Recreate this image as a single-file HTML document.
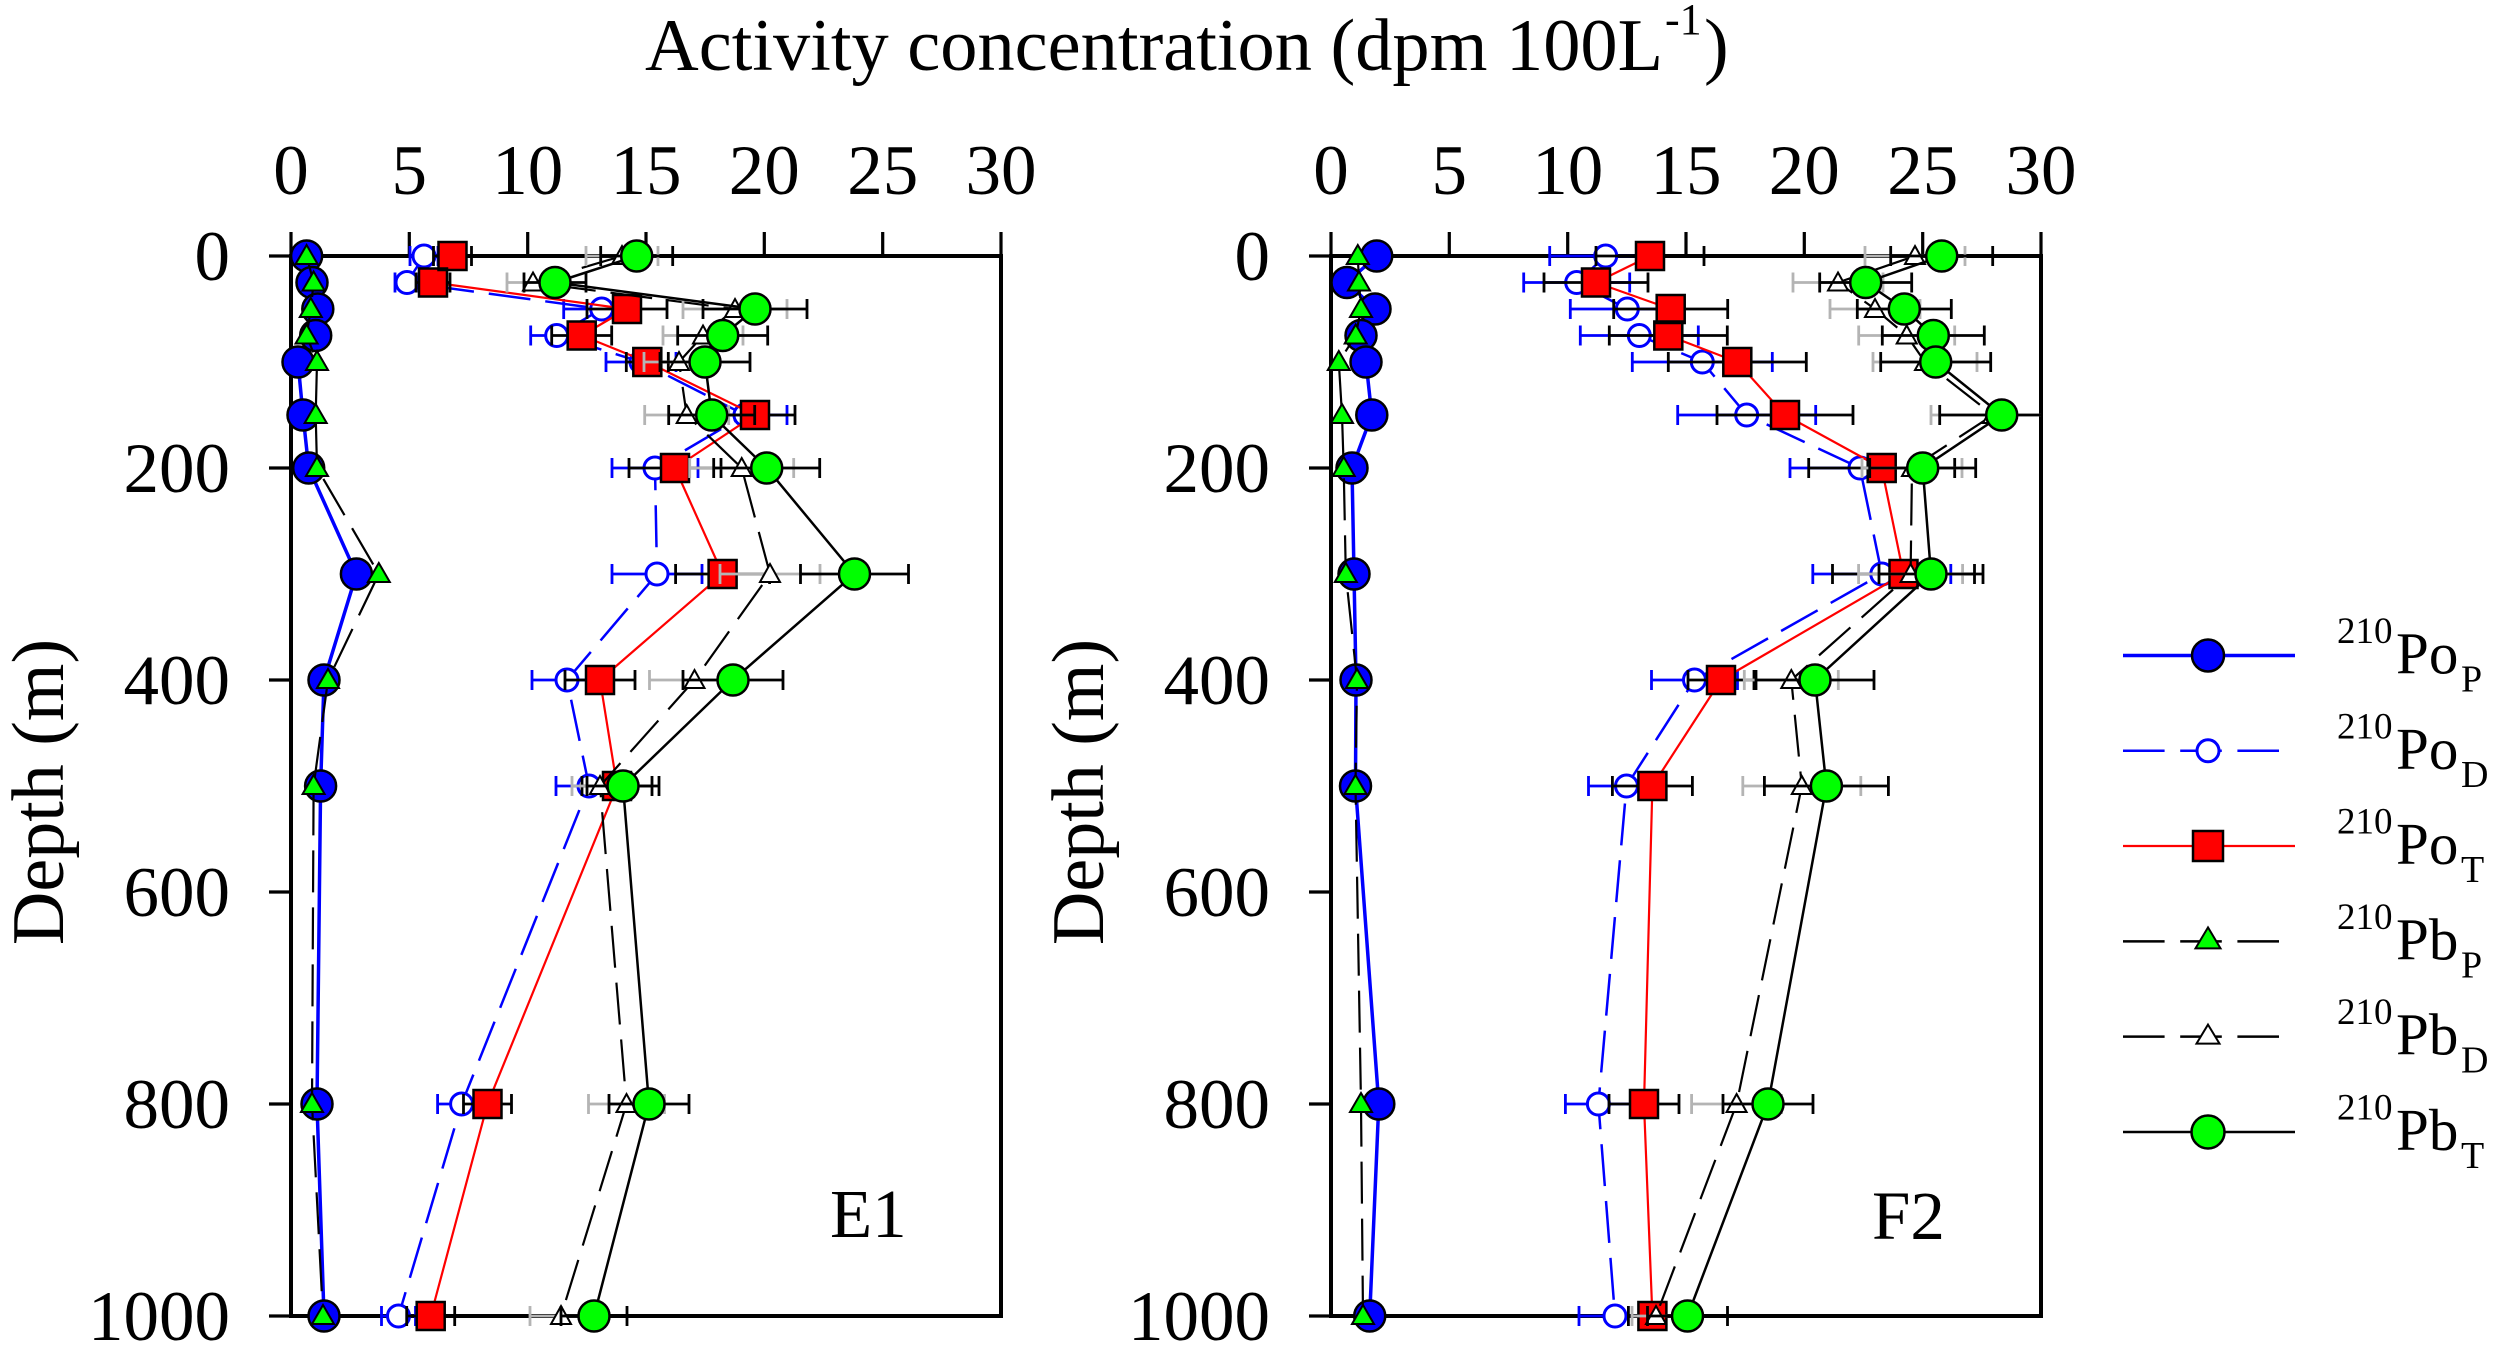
<!DOCTYPE html>
<html><head><meta charset="utf-8"><style>
html,body{margin:0;padding:0;background:#fff;}
svg{display:block;}
text{font-family:"Liberation Serif","Times New Roman",serif;fill:#000;}
</style></head><body>
<svg width="2500" height="1346" viewBox="0 0 2500 1346" xmlns="http://www.w3.org/2000/svg">
<rect width="2500" height="1346" fill="#fff"/>

<!-- Title -->
<text x="645" y="70" font-size="74" textLength="1018" lengthAdjust="spacingAndGlyphs">Activity concentration (dpm 100L</text>
<text x="1665" y="34" font-size="44">-1</text>
<text x="1704" y="70" font-size="74">)</text>

<!-- ===== Panel E1 frame ===== -->
<g stroke="#000" fill="none">
<rect x="291" y="256" width="710" height="1060" stroke-width="4"/>
<path stroke-width="3.2" d="M291,232V256M409.3,232V256M527.7,232V256M646,232V256M764.3,232V256M882.7,232V256M1001,232V256
M269,256H291M269,468H291M269,680H291M269,892H291M269,1104H291M269,1316H291"/>
</g>
<g font-size="71" text-anchor="middle">
<text x="291" y="194">0</text><text x="409.3" y="194">5</text><text x="527.7" y="194">10</text><text x="646" y="194">15</text><text x="764.3" y="194">20</text><text x="882.7" y="194">25</text><text x="1001" y="194">30</text>
</g>
<g font-size="71" text-anchor="end">
<text x="230" y="280">0</text><text x="230" y="492">200</text><text x="230" y="704">400</text><text x="230" y="916">600</text><text x="230" y="1128">800</text><text x="230" y="1340">1000</text>
</g>
<text transform="translate(63,792) rotate(-90)" font-size="74" text-anchor="middle">Depth (m)</text>
<text x="830" y="1237" font-size="69">E1</text>

<!-- ===== Panel F2 frame ===== -->
<g stroke="#000" fill="none">
<rect x="1331" y="256" width="710" height="1060" stroke-width="4"/>
<path stroke-width="3.2" d="M1331,232V256M1449.3,232V256M1567.7,232V256M1686,232V256M1804.3,232V256M1922.7,232V256M2041,232V256
M1309,256H1331M1309,468H1331M1309,680H1331M1309,892H1331M1309,1104H1331M1309,1316H1331"/>
</g>
<g font-size="71" text-anchor="middle">
<text x="1331" y="194">0</text><text x="1449.3" y="194">5</text><text x="1567.7" y="194">10</text><text x="1686" y="194">15</text><text x="1804.3" y="194">20</text><text x="1922.7" y="194">25</text><text x="2041" y="194">30</text>
</g>
<g font-size="71" text-anchor="end">
<text x="1270" y="280">0</text><text x="1270" y="492">200</text><text x="1270" y="704">400</text><text x="1270" y="916">600</text><text x="1270" y="1128">800</text><text x="1270" y="1340">1000</text>
</g>
<text transform="translate(1103,792) rotate(-90)" font-size="74" text-anchor="middle">Depth (m)</text>
<text x="1872" y="1239" font-size="69">F2</text>

<!-- ================= E1 DATA ================= -->
<!-- PoP -->
<polyline fill="none" stroke="#0000ff" stroke-width="3.5" points="306.6,256 312,282.5 317.8,309 315.7,335.5 298,362 303,415 308.7,468 356.4,574 324,680 320.6,786 317,1104 324,1316"/>
<g fill="#0000ff" stroke="#000" stroke-width="2.5">
<circle cx="306.6" cy="256" r="15.5"/><circle cx="312" cy="282.5" r="15.5"/><circle cx="317.8" cy="309" r="15.5"/><circle cx="315.7" cy="335.5" r="15.5"/><circle cx="298" cy="362" r="15.5"/><circle cx="303" cy="415" r="15.5"/><circle cx="308.7" cy="468" r="15.5"/><circle cx="356.4" cy="574" r="15.5"/><circle cx="324" cy="680" r="15.5"/><circle cx="320.6" cy="786" r="15.5"/><circle cx="317" cy="1104" r="15.5"/><circle cx="324" cy="1316" r="15.5"/>
</g>
<!-- PoD -->
<polyline fill="none" stroke="#0000ff" stroke-width="2.5" stroke-dasharray="42 15" points="424,256 407,282.5 601.7,309 556.7,335.5 641,362 745,415 655,468 657,574 567,680 589,786 461.6,1104 398.5,1316"/>
<path fill="none" stroke="#0000ff" stroke-width="2.8" d="M410,256H438M410,246v20M438,246v20
M395,282.5H419M395,272.5v20M419,272.5v20
M563.7,309H639.7M563.7,299v20M639.7,299v20
M530.7,335.5H582.7M530.7,325.5v20M582.7,325.5v20
M606,362H676M606,352v20M676,352v20
M703,415H787M703,405v20M787,405v20
M612,468H698M612,458v20M698,458v20
M612,574H702M612,564v20M702,564v20
M532,680H602M532,670v20M602,670v20
M556,786H622M556,776v20M622,776v20
M437.6,1104H485.6M437.6,1094v20M485.6,1094v20
M381.5,1316H415.5M381.5,1306v20M415.5,1306v20"/>
<g fill="#fff" stroke="#0000ff" stroke-width="3">
<circle cx="424" cy="256" r="11"/><circle cx="407" cy="282.5" r="11"/><circle cx="601.7" cy="309" r="11"/><circle cx="556.7" cy="335.5" r="11"/><circle cx="641" cy="362" r="11"/><circle cx="745" cy="415" r="11"/><circle cx="655" cy="468" r="11"/><circle cx="657" cy="574" r="11"/><circle cx="567" cy="680" r="11"/><circle cx="589" cy="786" r="11"/><circle cx="461.6" cy="1104" r="11"/><circle cx="398.5" cy="1316" r="11"/>
</g>
<!-- PoT -->
<polyline fill="none" stroke="#ff0000" stroke-width="2.2" points="452.5,256 433,282.5 627,309 581.7,335.5 647.3,362 755,415 675,468 722.6,574 600,680 617,786 487.5,1104 430.7,1316"/>
<path fill="none" stroke="#000" stroke-width="2.8" d="M433.5,256H471.5M433.5,246v20M471.5,246v20
M416,282.5H450M416,272.5v20M450,272.5v20
M587,309H667M587,299v20M667,299v20
M551.7,335.5H611.7M551.7,325.5v20M611.7,325.5v20
M626.3,362H668.3M626.3,352v20M668.3,352v20
M715,415H795M715,405v20M795,405v20
M629,468H721M629,458v20M721,458v20
M675.6,574H769.6M675.6,564v20M769.6,564v20
M565,680H635M565,670v20M635,670v20
M582,786H652M582,776v20M652,776v20
M463.5,1104H511.5M463.5,1094v20M511.5,1094v20
M406.7,1316H454.7M406.7,1306v20M454.7,1306v20"/>
<path fill="#ff0000" stroke="#000" stroke-width="2.5" d="M438.5,242h28v28h-28zM419,268.5h28v28h-28zM613,295h28v28h-28zM567.7,321.5h28v28h-28zM633.3,348h28v28h-28zM741,401h28v28h-28zM661,454h28v28h-28zM708.6,560h28v28h-28zM586,666h28v28h-28zM603,772h28v28h-28zM473.5,1090h28v28h-28zM416.7,1302h28v28h-28z"/>
<!-- PbP -->
<polyline fill="none" stroke="#000" stroke-width="2.2" stroke-dasharray="42 15" points="306.6,256 313.6,282.5 310.8,309 306.6,335.5 317,362 315.7,415 317,468 378.8,574 328,680 313.6,786 312,1104 323,1316"/>
<path fill="#00ff00" stroke="#000" stroke-width="2" d="M306.6,245l11,19h-22zM313.6,271.5l11,19h-22zM310.8,298l11,19h-22zM306.6,324.5l11,19h-22zM317,351l11,19h-22zM315.7,404l11,19h-22zM317,457l11,19h-22zM378.8,563l11,19h-22zM328,669l11,19h-22zM313.6,775l11,19h-22zM312,1093l11,19h-22zM323,1305l11,19h-22z"/>
<!-- PbD -->
<polyline fill="none" stroke="#000" stroke-width="2.2" stroke-dasharray="42 15" points="622,256 533,282.5 735,309 703,335.5 679,362 686.7,415 741.7,468 770,574 694.5,680 600,786 626.5,1104 561,1316"/>
<path fill="none" stroke="#b4b4b4" stroke-width="2.8" d="M586,256H658M586,246v20M658,246v20
M507,282.5H559M507,272.5v20M559,272.5v20
M683,309H787M683,299v20M787,299v20
M663,335.5H743M663,325.5v20M743,325.5v20
M644,362H714M644,352v20M714,352v20
M644.7,415H728.7M644.7,405v20M728.7,405v20
M689.7,468H793.7M689.7,458v20M793.7,458v20
M720,574H820M720,564v20M820,564v20
M649.5,680H739.5M649.5,670v20M739.5,670v20
M572,786H628M572,776v20M628,776v20
M588.5,1104H664.5M588.5,1094v20M664.5,1094v20
M530,1316H592M530,1306v20M592,1306v20"/>
<path fill="#fff" stroke="#000" stroke-width="2" d="M622,246l10,18h-20zM533,272.5l10,18h-20zM735,299l10,18h-20zM703,325.5l10,18h-20zM679,352l10,18h-20zM686.7,405l10,18h-20zM741.7,458l10,18h-20zM770,564l10,18h-20zM694.5,670l10,18h-20zM600,776l10,18h-20zM626.5,1094l10,18h-20zM561,1306l10,18h-20z"/>
<!-- PbT -->
<polyline fill="none" stroke="#000" stroke-width="2.5" points="636.7,256 555,282.5 755,309 722.7,335.5 705,362 711.7,415 766.7,468 854.5,574 733,680 623,786 649,1104 594,1316"/>
<path fill="none" stroke="#000" stroke-width="2.8" d="M600.7,256H672.7M600.7,246v20M672.7,246v20
M524,282.5H586M524,272.5v20M586,272.5v20
M703,309H807M703,299v20M807,299v20
M677.7,335.5H767.7M677.7,325.5v20M767.7,325.5v20
M660,362H750M660,352v20M750,352v20
M668.7,415H754.7M668.7,405v20M754.7,405v20
M713.7,468H819.7M713.7,458v20M819.7,458v20
M800.5,574H908.5M800.5,564v20M908.5,564v20
M683,680H783M683,670v20M783,670v20
M587,786H659M587,776v20M659,776v20
M609,1104H689M609,1094v20M689,1094v20
M561,1316H627M561,1306v20M627,1306v20"/>
<g fill="#00ff00" stroke="#000" stroke-width="2.5">
<circle cx="636.7" cy="256" r="15.5"/><circle cx="555" cy="282.5" r="15.5"/><circle cx="755" cy="309" r="15.5"/><circle cx="722.7" cy="335.5" r="15.5"/><circle cx="705" cy="362" r="15.5"/><circle cx="711.7" cy="415" r="15.5"/><circle cx="766.7" cy="468" r="15.5"/><circle cx="854.5" cy="574" r="15.5"/><circle cx="733" cy="680" r="15.5"/><circle cx="623" cy="786" r="15.5"/><circle cx="649" cy="1104" r="15.5"/><circle cx="594" cy="1316" r="15.5"/>
</g>

<!-- ================= F2 DATA ================= -->
<!-- PoP -->
<polyline fill="none" stroke="#0000ff" stroke-width="3.5" points="1376.7,256 1347,282.5 1375,309 1361,335.5 1366,362 1371.8,415 1352,468 1354,574 1356,680 1355.5,786 1378.8,1104 1369.7,1316"/>
<g fill="#0000ff" stroke="#000" stroke-width="2.5">
<circle cx="1376.7" cy="256" r="15.5"/><circle cx="1347" cy="282.5" r="15.5"/><circle cx="1375" cy="309" r="15.5"/><circle cx="1361" cy="335.5" r="15.5"/><circle cx="1366" cy="362" r="15.5"/><circle cx="1371.8" cy="415" r="15.5"/><circle cx="1352" cy="468" r="15.5"/><circle cx="1354" cy="574" r="15.5"/><circle cx="1356" cy="680" r="15.5"/><circle cx="1355.5" cy="786" r="15.5"/><circle cx="1378.8" cy="1104" r="15.5"/><circle cx="1369.7" cy="1316" r="15.5"/>
</g>
<!-- PoD -->
<polyline fill="none" stroke="#0000ff" stroke-width="2.5" stroke-dasharray="42 15" points="1605.7,256 1576.7,282.5 1627.3,309 1639.3,335.5 1702.3,362 1746.7,415 1860,468 1881.8,574 1694.5,680 1626.5,786 1598.4,1104 1615,1316"/>
<path fill="none" stroke="#0000ff" stroke-width="2.8" d="M1549.7,256H1661.7M1549.7,246v20M1661.7,246v20
M1523.7,282.5H1629.7M1523.7,272.5v20M1629.7,272.5v20
M1570.3,309H1684.3M1570.3,299v20M1684.3,299v20
M1580.3,335.5H1698.3M1580.3,325.5v20M1698.3,325.5v20
M1632.3,362H1772.3M1632.3,352v20M1772.3,352v20
M1677.7,415H1815.7M1677.7,405v20M1815.7,405v20
M1790,468H1930M1790,458v20M1930,458v20
M1812.8,574H1950.8M1812.8,564v20M1950.8,564v20
M1651.5,680H1737.5M1651.5,670v20M1737.5,670v20
M1588.5,786H1664.5M1588.5,776v20M1664.5,776v20
M1565.4,1104H1631.4M1565.4,1094v20M1631.4,1094v20
M1579,1316H1651M1579,1306v20M1651,1306v20"/>
<g fill="#fff" stroke="#0000ff" stroke-width="3">
<circle cx="1605.7" cy="256" r="11"/><circle cx="1576.7" cy="282.5" r="11"/><circle cx="1627.3" cy="309" r="11"/><circle cx="1639.3" cy="335.5" r="11"/><circle cx="1702.3" cy="362" r="11"/><circle cx="1746.7" cy="415" r="11"/><circle cx="1860" cy="468" r="11"/><circle cx="1881.8" cy="574" r="11"/><circle cx="1694.5" cy="680" r="11"/><circle cx="1626.5" cy="786" r="11"/><circle cx="1598.4" cy="1104" r="11"/><circle cx="1615" cy="1316" r="11"/>
</g>
<!-- PoT -->
<polyline fill="none" stroke="#ff0000" stroke-width="2.2" points="1650,256 1596,282.5 1670.7,309 1668.3,335.5 1737.3,362 1785,415 1881.7,468 1903.5,574 1721,680 1652.4,786 1644,1104 1652.4,1316"/>
<path fill="none" stroke="#000" stroke-width="2.8" d="M1596,256H1704M1596,246v20M1704,246v20
M1544,282.5H1648M1544,272.5v20M1648,272.5v20
M1613.7,309H1727.7M1613.7,299v20M1727.7,299v20
M1609.3,335.5H1727.3M1609.3,325.5v20M1727.3,325.5v20
M1668.3,362H1806.3M1668.3,352v20M1806.3,352v20
M1717,415H1853M1717,405v20M1853,405v20
M1808.7,468H1954.7M1808.7,458v20M1954.7,458v20
M1832.5,574H1974.5M1832.5,564v20M1974.5,564v20
M1688,680H1754M1688,670v20M1754,670v20
M1612.4,786H1692.4M1612.4,776v20M1692.4,776v20
M1609,1104H1679M1609,1094v20M1679,1094v20
M1628.4,1316H1676.4M1628.4,1306v20M1676.4,1306v20"/>
<path fill="#ff0000" stroke="#000" stroke-width="2.5" d="M1636,242h28v28h-28zM1582,268.5h28v28h-28zM1656.7,295h28v28h-28zM1654.3,321.5h28v28h-28zM1723.3,348h28v28h-28zM1771,401h28v28h-28zM1867.7,454h28v28h-28zM1889.5,560h28v28h-28zM1707,666h28v28h-28zM1638.4,772h28v28h-28zM1630,1090h28v28h-28zM1638.4,1302h28v28h-28z"/>
<!-- PbP -->
<polyline fill="none" stroke="#000" stroke-width="2.2" stroke-dasharray="42 15" points="1357.8,256 1359,282.5 1361,309 1355.7,335.5 1338.8,362 1342,415 1343.7,468 1345.8,574 1357,680 1355.5,786 1361,1104 1363,1316"/>
<path fill="#00ff00" stroke="#000" stroke-width="2" d="M1357.8,245l11,19h-22zM1359,271.5l11,19h-22zM1361,298l11,19h-22zM1355.7,324.5l11,19h-22zM1338.8,351l11,19h-22zM1342,404l11,19h-22zM1343.7,457l11,19h-22zM1345.8,563l11,19h-22zM1357,669l11,19h-22zM1355.5,775l11,19h-22zM1361,1093l11,19h-22zM1363,1305l11,19h-22z"/>
<!-- PbD -->
<polyline fill="none" stroke="#000" stroke-width="2.2" stroke-dasharray="42 15" points="1915,256 1838,282.5 1875,309 1906.7,335.5 1925,362 1993,415 1912,468 1910.6,574 1791.3,680 1801.8,786 1736.6,1104 1656,1316"/>
<path fill="none" stroke="#b4b4b4" stroke-width="2.8" d="M1865,256H1965M1865,246v20M1965,246v20
M1793,282.5H1883M1793,272.5v20M1883,272.5v20
M1830,309H1920M1830,299v20M1920,299v20
M1858.7,335.5H1954.7M1858.7,325.5v20M1954.7,325.5v20
M1873,362H1977M1873,352v20M1977,352v20
M1931,415H2041M1931,405v20
M1862,468H1962M1862,458v20M1962,458v20
M1858.6,574H1962.6M1858.6,564v20M1962.6,564v20
M1744.3,680H1838.3M1744.3,670v20M1838.3,670v20
M1742.8,786H1860.8M1742.8,776v20M1860.8,776v20
M1691.6,1104H1781.6M1691.6,1094v20M1781.6,1094v20
M1632,1316H1680M1632,1306v20M1680,1306v20"/>
<path fill="#fff" stroke="#000" stroke-width="2" d="M1915,246l10,18h-20zM1838,272.5l10,18h-20zM1875,299l10,18h-20zM1906.7,325.5l10,18h-20zM1925,352l10,18h-20zM1993,405l10,18h-20zM1912,458l10,18h-20zM1910.6,564l10,18h-20zM1791.3,670l10,18h-20zM1801.8,776l10,18h-20zM1736.6,1094l10,18h-20zM1656,1306l10,18h-20z"/>
<!-- PbT -->
<polyline fill="none" stroke="#000" stroke-width="2.5" points="1941.7,256 1865.7,282.5 1904.3,309 1933.3,335.5 1935.7,362 2001.7,415 1922.7,468 1931,574 1815,680 1826.4,786 1768,1104 1687.5,1316"/>
<path fill="none" stroke="#000" stroke-width="2.8" d="M1890.7,256H1992.7M1890.7,246v20M1992.7,246v20
M1819.7,282.5H1911.7M1819.7,272.5v20M1911.7,272.5v20
M1857.3,309H1951.3M1857.3,299v20M1951.3,299v20
M1882.3,335.5H1984.3M1882.3,325.5v20M1984.3,325.5v20
M1880.7,362H1990.7M1880.7,352v20M1990.7,352v20
M1939.7,415H2041M1939.7,405v20
M1869.7,468H1975.7M1869.7,458v20M1975.7,458v20
M1879,574H1983M1879,564v20M1983,564v20
M1756,680H1874M1756,670v20M1874,670v20
M1764.4,786H1888.4M1764.4,776v20M1888.4,776v20
M1723,1104H1813M1723,1094v20M1813,1094v20
M1647.5,1316H1727.5M1647.5,1306v20M1727.5,1306v20"/>
<g fill="#00ff00" stroke="#000" stroke-width="2.5">
<circle cx="1941.7" cy="256" r="15.5"/><circle cx="1865.7" cy="282.5" r="15.5"/><circle cx="1904.3" cy="309" r="15.5"/><circle cx="1933.3" cy="335.5" r="15.5"/><circle cx="1935.7" cy="362" r="15.5"/><circle cx="2001.7" cy="415" r="15.5"/><circle cx="1922.7" cy="468" r="15.5"/><circle cx="1931" cy="574" r="15.5"/><circle cx="1815" cy="680" r="15.5"/><circle cx="1826.4" cy="786" r="15.5"/><circle cx="1768" cy="1104" r="15.5"/><circle cx="1687.5" cy="1316" r="15.5"/>
</g>

<!-- ================= LEGEND ================= -->
<path d="M2123,655.5H2295" stroke="#0000ff" stroke-width="3.5" fill="none"/>
<circle cx="2208" cy="655.5" r="16" fill="#0000ff" stroke="#000" stroke-width="2.5"/>

<path d="M2123,750.8H2279" stroke="#0000ff" stroke-width="2.5" stroke-dasharray="41.6 15.6" fill="none"/>
<circle cx="2208" cy="750.8" r="11" fill="#fff" stroke="#0000ff" stroke-width="3"/>

<path d="M2123,846H2295" stroke="#ff0000" stroke-width="2.2" fill="none"/>
<rect x="2193" y="831" width="30" height="30" fill="#ff0000" stroke="#000" stroke-width="2.5"/>

<path d="M2123,941.4H2279" stroke="#000" stroke-width="2.5" stroke-dasharray="41.6 15.6" fill="none"/>
<path d="M2208,927.4l12.5,21h-25z" fill="#00ff00" stroke="#000" stroke-width="2"/>

<path d="M2123,1036.6H2279" stroke="#000" stroke-width="2.5" stroke-dasharray="41.6 15.6" fill="none"/>
<path d="M2208,1024.6l11.5,19h-23z" fill="#fff" stroke="#000" stroke-width="2"/>

<path d="M2123,1132H2295" stroke="#000" stroke-width="2.5" fill="none"/>
<circle cx="2208" cy="1132" r="16.5" fill="#00ff00" stroke="#000" stroke-width="2.5"/>

<g>
<text x="2337" y="643" font-size="37">210</text><text x="2396" y="673.5" font-size="59">Po</text><text x="2461" y="691.5" font-size="38">P</text>
<text x="2337" y="738.3" font-size="37">210</text><text x="2396" y="768.8" font-size="59">Po</text><text x="2461" y="786.8" font-size="38">D</text>
<text x="2337" y="833.5" font-size="37">210</text><text x="2396" y="864" font-size="59">Po</text><text x="2461" y="882" font-size="38">T</text>
<text x="2337" y="928.9" font-size="37">210</text><text x="2396" y="959.4" font-size="59">Pb</text><text x="2461" y="977.4" font-size="38">P</text>
<text x="2337" y="1024.1" font-size="37">210</text><text x="2396" y="1054.6" font-size="59">Pb</text><text x="2461" y="1072.6" font-size="38">D</text>
<text x="2337" y="1119.5" font-size="37">210</text><text x="2396" y="1150" font-size="59">Pb</text><text x="2461" y="1168" font-size="38">T</text>
</g>
</svg>
</body></html>
